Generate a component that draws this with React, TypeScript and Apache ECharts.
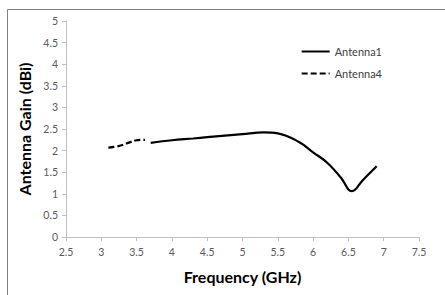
import React, { useEffect, useRef } from "react";
import * as echarts from "echarts";

const freq1 = [3.7, 4.0, 4.3, 4.5, 5.0, 5.3, 5.5, 5.8, 6.0, 6.2, 6.4, 6.5, 6.55, 6.7, 6.9];
const gain1 = [2.18, 2.24, 2.28, 2.31, 2.38, 2.42, 2.4, 2.2, 1.96, 1.72, 1.36, 1.1, 1.06, 1.31, 1.64];
const freq4 = [3.1, 3.2, 3.3, 3.4, 3.5, 3.62];
const gain4 = [2.07, 2.09, 2.13, 2.19, 2.24, 2.25];
const seriesNames = ["Antenna1", "Antenna4"];

export default function App() {
  const ref = useRef<HTMLDivElement>(null);
  useEffect(() => {
    const chart = echarts.init(ref.current!, null, { renderer: "svg" });
    const font = "Lato, 'Open Sans', sans-serif";
    chart.setOption({
      animation: false,
      backgroundColor: "#ffffff",
      textStyle: { fontFamily: font },
      grid: { left: 66, right: 26, top: 21, bottom: 58 },
      legend: {
        right: 58,
        top: 41,
        orient: "vertical",
        itemGap: 11,
        itemWidth: 28,
        itemHeight: 10,
        itemStyle: { opacity: 0 },
        textStyle: { fontFamily: font, fontSize: 11, color: "#404040" },
        data: seriesNames.map((n) => ({ name: n })),
      },
      xAxis: {
        type: "value",
        min: 2.5,
        max: 7.5,
        interval: 0.5,
        name: "Frequency (GHz)",
        nameLocation: "middle",
        nameGap: 31,
        nameTextStyle: { fontFamily: font, fontSize: 16, fontWeight: "bold", color: "#000" },
        axisLine: { lineStyle: { color: "#bfbfbf" } },
        axisTick: { length: 4, lineStyle: { color: "#bfbfbf" } },
        axisLabel: { fontSize: 10.5, color: "#595959", margin: 9, fontFamily: font },
        splitLine: { show: false },
      },
      yAxis: {
        type: "value",
        min: 0,
        max: 5,
        interval: 0.5,
        name: "Antenna Gain (dBi)",
        nameLocation: "middle",
        nameGap: 34,
        nameTextStyle: { fontFamily: font, fontSize: 16, fontWeight: "bold", color: "#000" },
        axisLine: { show: true, lineStyle: { color: "#bfbfbf" } },
        axisTick: { show: true, length: 4, lineStyle: { color: "#bfbfbf" } },
        axisLabel: { fontSize: 10.5, color: "#595959", margin: 8, fontFamily: font },
        splitLine: { show: false },
      },
      series: [
        {
          name: seriesNames[0],
          type: "line",
          smooth: 0.4,
          symbol: "none",
          color: "#000",
          lineStyle: { color: "#000", width: 2.2 },
          data: freq1.map((f, i) => [f, gain1[i]]),
        },
        {
          name: seriesNames[1],
          type: "line",
          smooth: 0.4,
          symbol: "none",
          color: "#000",
          lineStyle: { color: "#000", width: 2.2, type: [6, 3] },
          data: freq4.map((f, i) => [f, gain4[i]]),
        },
      ],
      graphic: [
        { type: "line", shape: { x1: 7.5, y1: 9.5, x2: 445, y2: 9.5 }, style: { stroke: "#808080", lineWidth: 1 } },
        { type: "line", shape: { x1: 7.5, y1: 9.5, x2: 7.5, y2: 295 }, style: { stroke: "#808080", lineWidth: 1 } },
      ],
    });
    return () => chart.dispose();
  }, []);
  return <div ref={ref} style={{ position: "fixed", left: 0, top: 0, width: 445, height: 295 }} />;
}
